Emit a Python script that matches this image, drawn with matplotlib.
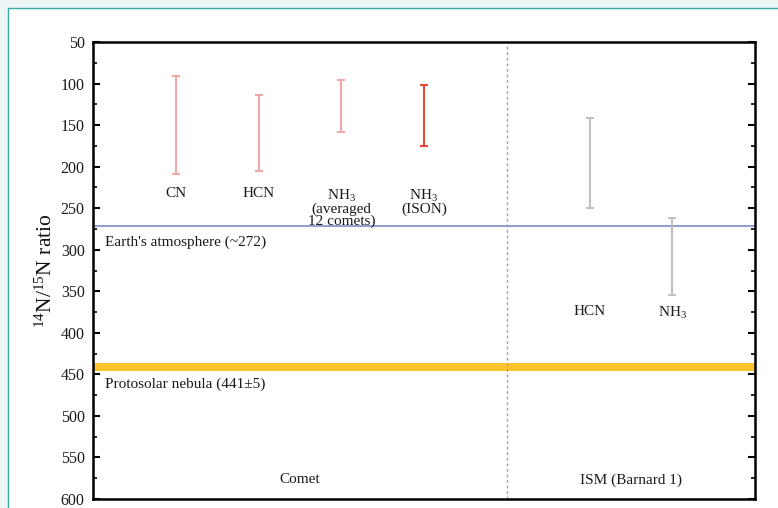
import matplotlib
matplotlib.use("Agg")
import matplotlib.pyplot as plt
from matplotlib.patches import Rectangle

plt.rcParams['font.family'] = ['Liberation Serif', 'DejaVu Serif']
plt.rcParams['mathtext.fontset'] = 'custom'
plt.rcParams['mathtext.rm'] = 'Liberation Serif'
plt.rcParams['mathtext.it'] = 'Liberation Serif'
plt.rcParams['mathtext.bf'] = 'Liberation Serif:bold'

# Data
comet_labels = ["CN", "HCN", "NH$_3$\n(averaged\n12 comets)", "NH$_3$\n(ISON)"]
comet_low = [91, 114, 96, 102]
comet_high = [209, 205, 158, 175]
comet_colors = ["#f0a9a8", "#f0a9a8", "#f0a9a8", "#e5483d"]

ism_labels = ["HCN", "NH$_3$"]
ism_low = [141, 262]
ism_high = [250, 355]

earth_value = 272
protosolar_value = 441
protosolar_err = 5

y_ticks = [50, 100, 150, 200, 250, 300, 350, 400, 450, 500, 550, 600]

fig = plt.figure(figsize=(7.78, 5.08), dpi=100)
fig.patch.set_facecolor("#edf5f7")
# framed white panel
frame = Rectangle((8/778, -0.1), 1.0, (508-8)/508 + 0.1, transform=fig.transFigure,
                  facecolor="white", edgecolor="#3aa8a6", linewidth=1.0, zorder=-5)
fig.patches.append(frame)

ax = fig.add_axes([93/778, 1 - 499/508, (755-93)/778, (499-42)/508])
ax.set_zorder(2)
ax.set_xlim(0, 8)
ax.set_ylim(600, 50)

comet_x = [1, 2, 3, 4]
ism_x = [6, 7]

for x, lo, hi, c in zip(comet_x, comet_low, comet_high, comet_colors):
    mid = (lo + hi) / 2
    ax.errorbar([x], [mid], yerr=[[mid - lo], [hi - mid]], fmt='none', ecolor=c,
                elinewidth=1.5, capsize=3.2, capthick=1.5, zorder=3)
for x, lo, hi in zip(ism_x, ism_low, ism_high):
    mid = (lo + hi) / 2
    ax.errorbar([x], [mid], yerr=[[mid - lo], [hi - mid]], fmt='none', ecolor="#c4bfbd",
                elinewidth=1.5, capsize=3.2, capthick=1.5, zorder=3)

txt = "#1a1a1a"
for x, lab in zip(comet_x, comet_labels):
    ax.text(x, 225, lab, ha='center', va='top', fontsize=11, linespacing=0.88, color=txt)
for x, lab in zip(ism_x, ism_labels):
    ax.text(x, 366, lab, ha='center', va='top', fontsize=11, color=txt)

ax.axhline(earth_value, color="#7d8ec6", linewidth=1.2, zorder=2)
ax.axhspan(protosolar_value - protosolar_err, protosolar_value + protosolar_err,
           color="#f9c42b", linewidth=0, zorder=2)
ax.axvline(5, color="#a8a09a", linestyle=(0, (2, 2)), linewidth=1.0, zorder=2)

ax.text(0.15, 283, "Earth's atmosphere (~272)", ha='left', va='top', fontsize=11, color=txt)
ax.text(0.15, 454, "Protosolar nebula (441±5)", ha='left', va='top', fontsize=11, color=txt)
ax.text(2.5, 577, "Comet", ha='center', va='center', fontsize=11, color=txt)
ax.text(6.5, 577, "ISM (Barnard 1)", ha='center', va='center', fontsize=11, color=txt)

ax.set_yticks(y_ticks)
ax.set_yticks(range(75, 600, 50), minor=True)
ax.set_xticks([])
ax.tick_params(axis='y', which='major', direction='in', length=5, width=1.5, labelsize=11.5,
               right=True, left=True, labelcolor=txt, pad=6)
ax.tick_params(axis='y', which='minor', direction='in', length=3, width=1.2, right=True, left=True)
for s in ax.spines.values():
    s.set_linewidth(1.8)
    s.set_color("black")

ax.set_ylabel("$^{14}$N/$^{15}$N ratio", fontsize=15.5, labelpad=3, color="#111111")

fig.savefig("out.png", dpi=100, facecolor=fig.get_facecolor())
